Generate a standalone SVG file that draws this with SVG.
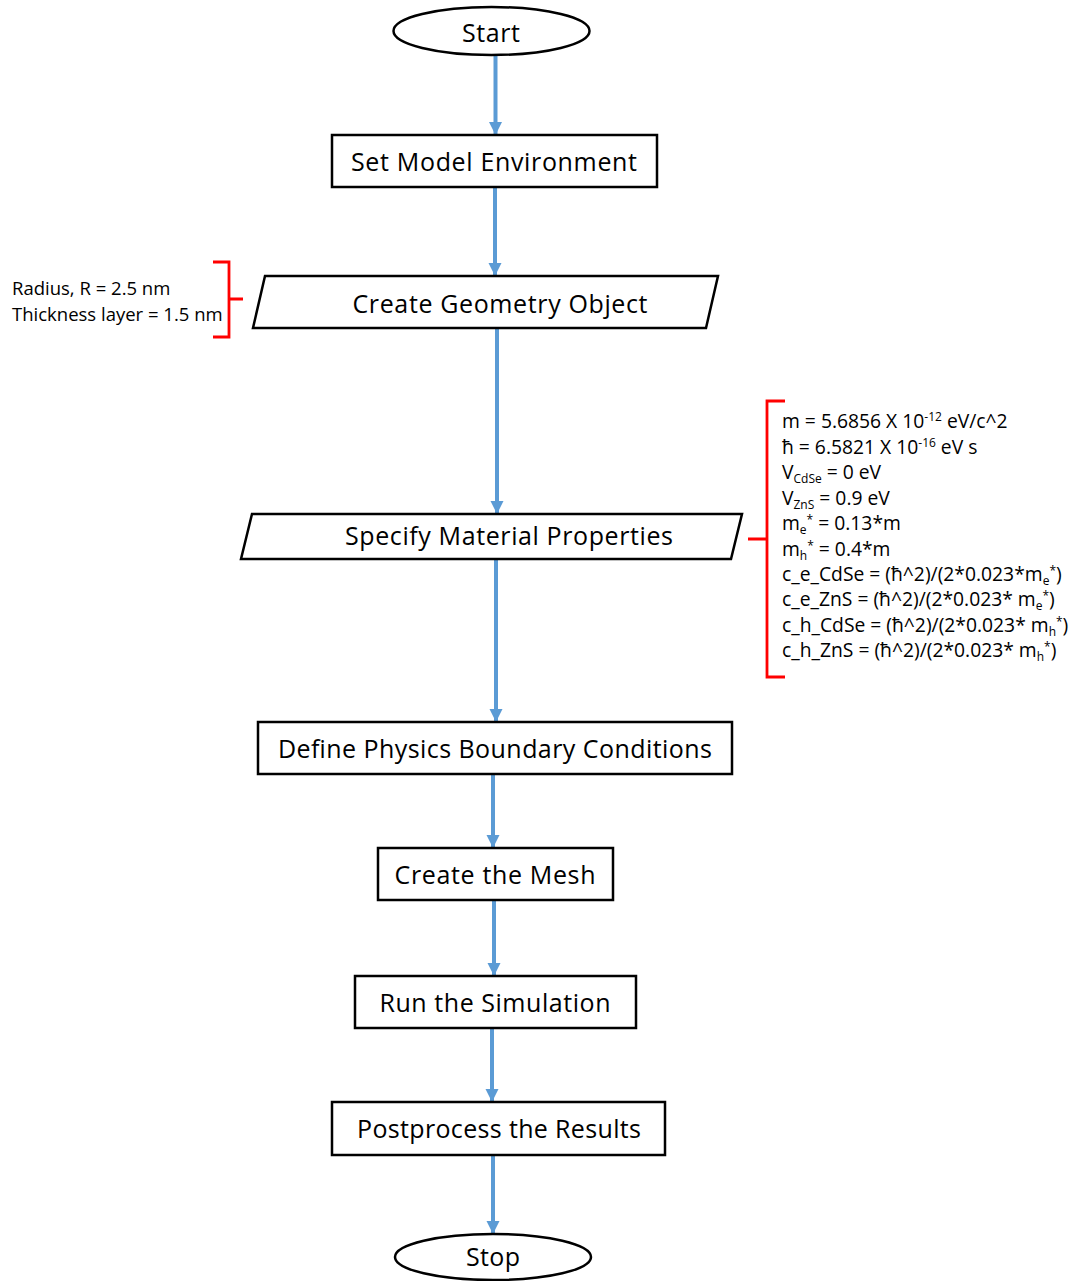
<svg xmlns="http://www.w3.org/2000/svg" width="1083" height="1281" viewBox="0 0 1083 1281">
<defs>
<marker id="ah" markerUnits="userSpaceOnUse" markerWidth="14" markerHeight="14" refX="13" refY="7" orient="auto">
<path d="M0,0.5 L13,7 L0,13.5 Z" fill="#5B9BD5"/>
</marker>
<style>
.n{fill:#fff;stroke:#000;stroke-width:2.5}
.t{font-family:"Open Sans","Noto Sans",sans-serif;font-size:25px;fill:#000;text-anchor:middle}
.c{stroke:#5B9BD5;stroke-width:4;fill:none;marker-end:url(#ah)}
.b{stroke:#FF0000;stroke-width:2.8;fill:none}
.s{font-family:"Open Sans","Noto Sans",sans-serif;font-size:18.5px;fill:#000}
.r{font-family:"Open Sans","Noto Sans",sans-serif;font-size:19.3px;fill:#000}
.m{font-size:12px}
</style>
</defs>
<rect width="1083" height="1281" fill="#fff"/>
<g id="connectors">
<line class="c" x1="495.5" y1="56" x2="495.5" y2="135"/>
<line class="c" x1="495" y1="187" x2="495" y2="276"/>
<line class="c" x1="497" y1="328" x2="497" y2="514"/>
<line class="c" x1="496" y1="559" x2="496" y2="722"/>
<line class="c" x1="493" y1="774" x2="493" y2="848"/>
<line class="c" x1="494" y1="900" x2="494" y2="976"/>
<line class="c" x1="492" y1="1028" x2="492" y2="1102"/>
<line class="c" x1="493" y1="1155" x2="493" y2="1234"/>
</g>
<g id="start">
<ellipse class="n" cx="491.5" cy="31" rx="98" ry="24"/>
<text class="t" x="491" y="42" textLength="58">Start</text>
</g>
<g id="set-model">
<rect class="n" x="332" y="135" width="325" height="52"/>
<text class="t" x="494" y="171" textLength="286">Set Model Environment</text>
</g>
<g id="create-geometry">
<polygon class="n" points="265,276 718,276 706,328 253,328"/>
<text class="t" x="500" y="313" textLength="295">Create Geometry Object</text>
</g>
<g id="specify-material">
<polygon class="n" points="252,514 742,514 731,559 241,559"/>
<text class="t" x="509" y="545" textLength="328">Specify Material Properties</text>
</g>
<g id="define-physics">
<rect class="n" x="258" y="722" width="474" height="52"/>
<text class="t" x="495" y="758" textLength="434">Define Physics Boundary Conditions</text>
</g>
<g id="create-mesh">
<rect class="n" x="378" y="848" width="235" height="52"/>
<text class="t" x="495" y="884" textLength="201">Create the Mesh</text>
</g>
<g id="run-sim">
<rect class="n" x="355" y="976" width="281" height="52"/>
<text class="t" x="495" y="1012" textLength="231">Run the Simulation</text>
</g>
<g id="postprocess">
<rect class="n" x="332" y="1102" width="333" height="53"/>
<text class="t" x="499" y="1138" textLength="284">Postprocess the Results</text>
</g>
<g id="stop">
<ellipse class="n" cx="493" cy="1257" rx="98" ry="23"/>
<text class="t" x="493" y="1266" textLength="54">Stop</text>
</g>
<g id="geometry-note">
<path class="b" d="M213,262 H229 V337 H213 M229,299 H243"/>
<text class="s" x="12" y="295">Radius, R = 2.5 nm</text>
<text class="s" x="12" y="321">Thickness layer = 1.5 nm</text>
</g>
<g id="material-note">
<path class="b" d="M785,401 H767 V677 H785 M767,539 H748"/>
<text class="r" x="782" y="428">m = 5.6856 X 10<tspan class="m" dy="-7">-12</tspan><tspan dy="7"> eV/c^2</tspan></text>
<text class="r" x="782" y="453.5">ħ = 6.5821 X 10<tspan class="m" dy="-7">-16</tspan><tspan dy="7"> eV s</tspan></text>
<text class="r" x="782" y="479">V<tspan class="m" dy="4">CdSe</tspan><tspan dy="-4"> = 0 eV</tspan></text>
<text class="r" x="782" y="504.5">V<tspan class="m" dy="4">ZnS</tspan><tspan dy="-4"> = 0.9 eV</tspan></text>
<text class="r" x="782" y="530">m<tspan class="m" dy="4">e</tspan><tspan class="m" dy="-10">*</tspan><tspan dy="6"> = 0.13*m</tspan></text>
<text class="r" x="782" y="555.5">m<tspan class="m" dy="4">h</tspan><tspan class="m" dy="-10">*</tspan><tspan dy="6"> = 0.4*m</tspan></text>
<text class="r" x="782" y="581">c_e_CdSe = (ħ^2)/(2*0.023*m<tspan class="m" dy="4">e</tspan><tspan class="m" dy="-10">*</tspan><tspan dy="6">)</tspan></text>
<text class="r" x="782" y="606">c_e_ZnS = (ħ^2)/(2*0.023* m<tspan class="m" dy="4">e</tspan><tspan class="m" dy="-10">*</tspan><tspan dy="6">)</tspan></text>
<text class="r" x="782" y="631.5">c_h_CdSe = (ħ^2)/(2*0.023* m<tspan class="m" dy="4">h</tspan><tspan class="m" dy="-10">*</tspan><tspan dy="6">)</tspan></text>
<text class="r" x="782" y="657">c_h_ZnS = (ħ^2)/(2*0.023* m<tspan class="m" dy="4">h</tspan><tspan class="m" dy="-10">*</tspan><tspan dy="6">)</tspan></text>
</g>
</svg>
